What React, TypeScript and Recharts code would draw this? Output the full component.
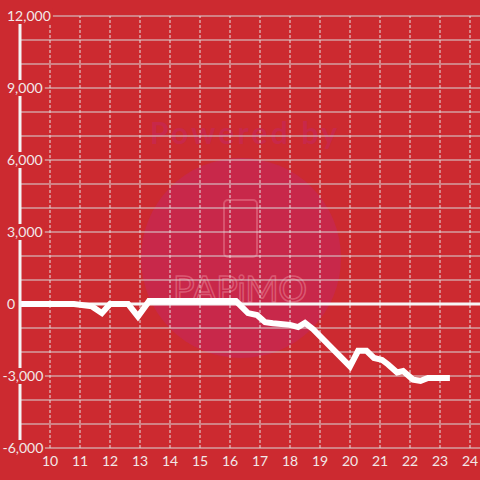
import {
  LineChart,
  Line,
  XAxis,
  YAxis,
  CartesianGrid,
  ReferenceLine,
} from "recharts";

const BG = "#cc2a30";
const TEXT = "#f2e8e8";

// hour of day
const hours = [
  9, 10.8, 11.4, 11.73, 12.0, 12.6, 12.93, 13.3, 16.2, 16.6, 16.9, 17.17,
  17.43, 18.0, 18.27, 18.5, 18.77, 20.0, 20.27, 20.55, 20.8, 21.07, 21.27,
  21.57, 21.77, 22.1, 22.35, 22.6, 23.33,
];
// running balance
const balance = [
  0, 0, -100, -380, 0, 0, -520, 120, 120, -380, -460, -760, -800, -870,
  -960, -790, -1050, -2600, -1950, -1950, -2250, -2330, -2520, -2850, -2790,
  -3150, -3200, -3080, -3080,
];

const xTicks = [10, 11, 12, 13, 14, 15, 16, 17, 18, 19, 20, 21, 22, 23, 24];
const yTicks = [
  -6000, -5000, -4000, -3000, -2000, -1000, 0, 1000, 2000, 3000, 4000, 5000,
  6000, 7000, 8000, 9000, 10000, 11000, 12000,
];

const data = hours.map((t, i) => ({ t, v: balance[i] }));

function YTick(props: any) {
  const { y, payload } = props;
  const value: number = payload.value;
  if (value % 3000 !== 0) return <g />;
  const label = value.toLocaleString("en-US");
  const digits = label.replace(/[^0-9]/g, "").length;
  const commas = label.replace(/[^,]/g, "").length;
  const neg = value < 0;
  const start = neg ? 2.5 : 7;
  const w = start + digits * 8.1 + commas * 3.4 + (neg ? 4.6 : 0) + 2;
  return (
    <g>
      <rect x={0} y={y - 8} width={w} height={16} fill={BG} />
      <text
        x={start}
        y={y}
        dy="0.36em"
        fill={TEXT}
        fontSize={14}
        fontFamily="Lato"
        textAnchor="start"
      >
        {label}
      </text>
    </g>
  );
}

function Watermark() {
  return (
    <svg
      width={480}
      height={480}
      style={{ position: "absolute", left: 0, top: 0 }}
    >
      <circle cx={241} cy={258} r={100} fill="#c8284a" />
      <text
        x={150}
        y={144}
        fontSize={30}
        fontWeight={700}
        fontFamily="Lato"
        fill="#c8284a"
        textLength={187}
      >
        Powered by
      </text>
      <rect
        x={224}
        y={200}
        width={33}
        height={57}
        rx={4}
        fill="none"
        stroke="rgba(240,150,165,0.4)"
        strokeWidth={2}
      />
      <text
        x={173}
        y={302}
        fontSize={36}
        fontWeight={400}
        fontFamily="Lato"
        fill="none"
        stroke="rgba(240,150,165,0.45)"
        strokeWidth={1.5}
        textLength={134}
      >
        PAPiMO
      </text>
    </svg>
  );
}

export default function App() {
  return (
    <div
      style={{
        position: "absolute",
        left: 0,
        top: 0,
        width: 480,
        height: 480,
        overflow: "hidden",
        background: BG,
        fontFamily: "Lato",
      }}
    >
      <Watermark />
      <div style={{ position: "absolute", left: 0, top: 0 }}>
        <LineChart
          width={500}
          height={480}
          data={data}
          margin={{ top: 16, right: 0, bottom: 0, left: 0 }}
        >
          <CartesianGrid vertical={false} stroke="#d8d8d8" strokeWidth={1} />
          {xTicks.map((t) => (
            <ReferenceLine
              key={t}
              x={t}
              stroke="#e4e4e4"
              strokeDasharray="3 2"
              strokeWidth={1}
            />
          ))}
          <XAxis
            type="number"
            dataKey="t"
            domain={[9, 25]}
            ticks={xTicks}
            interval={0}
            height={32}
            axisLine={false}
            tickLine={false}
            tickSize={0}
            tickMargin={8}
            tick={{ fill: TEXT, fontSize: 14, fontFamily: "Lato" }}
          />
          <YAxis
            type="number"
            domain={[-6000, 12000]}
            ticks={yTicks}
            interval={0}
            width={20}
            axisLine={{ stroke: "#f4f4f4", strokeWidth: 3 }}
            tickLine={false}
            tick={<YTick />}
          />
          <ReferenceLine y={0} stroke="#f6f6f6" strokeWidth={3} />
          <Line
            type="linear"
            dataKey="v"
            stroke="#ffffff"
            strokeWidth={6}
            dot={false}
            isAnimationActive={false}
          />
        </LineChart>
      </div>
    </div>
  );
}
